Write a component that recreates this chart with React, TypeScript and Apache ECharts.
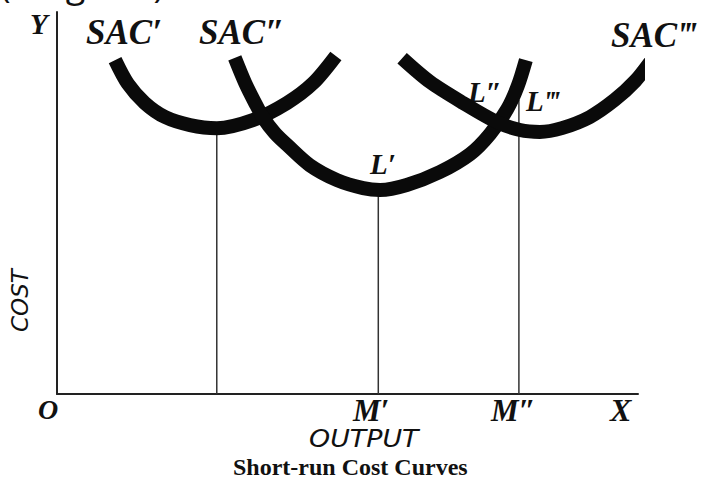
import React, { useEffect, useRef } from "react";
import * as echarts from "echarts";

// Output (0..100 along OX) and cost (0..100 along OY)
const sac1X = [10.0, 12.2, 15.1, 18.6, 22.9, 27.5, 33.7, 39.6, 44.1, 48.0];
const sac1Y = [87.4, 81.2, 76.2, 72.5, 70.4, 69.6, 71.7, 76.2, 81.4, 88.5];

const sac2X = [30.6, 32.4, 34.1, 35.5, 37.5, 39.6, 43.5, 48.2, 52.7, 55.6, 60.2, 65.9, 71.1, 74.5, 77.5, 79.3, 80.7];
const sac2Y = [88.0, 81.4, 76.2, 72.3, 68.3, 65.2, 59.9, 56.0, 53.9, 53.4, 54.7, 58.1, 62.8, 68.0, 74.6, 80.6, 87.4];

const sac3X = [59.4, 64.2, 69.9, 75.7, 79.7, 83.1, 86.9, 91.7, 96.0, 99.5, 102.1];
const sac3Y = [87.9, 81.7, 76.2, 71.2, 69.1, 68.6, 69.6, 72.5, 77.0, 81.9, 86.9];

// vertical drop lines: [output, top cost]
const dropLines: [number, number][] = [
  [27.5, 69.6],
  [55.3, 53.4],
  [79.5, 77.0],
];

const zip = (xs: number[], ys: number[]) => xs.map((x, i) => [x, ys[i]]);

const serifBI = {
  fontFamily: "Liberation Serif",
  fontWeight: "bold" as const,
  fontStyle: "italic" as const,
  fill: "#111",
};

export default function App() {
  const ref = useRef<HTMLDivElement>(null);
  useEffect(() => {
    if (!ref.current) return;
    const chart = echarts.init(ref.current, null, { renderer: "svg" });
    const curve = (d: number[][]) => ({
      type: "line",
      data: d,
      smooth: 0.3,
      symbol: "none",
      clip: false,
      lineStyle: { color: "#0a0a0a", width: 14, cap: "butt" },
      z: 3,
    });
    chart.setOption({
      animation: false,
      backgroundColor: "#ffffff",
      grid: { left: 57, top: 12, width: 581, height: 382 },
      xAxis: {
        type: "value",
        min: 0,
        max: 100,
        axisLine: { show: true, lineStyle: { color: "#222", width: 2 } },
        axisTick: { show: false },
        axisLabel: { show: false },
        splitLine: { show: false },
      },
      yAxis: {
        type: "value",
        min: 0,
        max: 100,
        axisLine: { show: true, lineStyle: { color: "#222", width: 2 } },
        axisTick: { show: false },
        axisLabel: { show: false },
        splitLine: { show: false },
      },
      series: [
        curve(zip(sac1X, sac1Y)),
        curve(zip(sac2X, sac2Y)),
        curve(zip(sac3X, sac3Y)),
        ...dropLines.map(([x, top]) => ({
          type: "line",
          data: [
            [x, 0],
            [x, top],
          ],
          symbol: "none",
          lineStyle: { color: "#333", width: 1.5 },
          z: 2,
        })),
      ],
      graphic: [
        { type: "text", left: 0, top: -35, style: { text: "(Diagram)", font: "36px 'Open Sans'", fill: "#111" } },
        { type: "text", left: 30, top: 9, style: { ...serifBI, text: "Y", fontSize: 29 } },
        { type: "text", left: 86, top: 15, style: { ...serifBI, text: "SAC′", fontSize: 35 } },
        { type: "text", left: 199, top: 15, style: { ...serifBI, text: "SAC″", fontSize: 35 } },
        { type: "text", left: 611, top: 18, style: { ...serifBI, text: "SAC‴", fontSize: 35 } },
        { type: "text", left: 370, top: 149, style: { ...serifBI, text: "L′", fontSize: 29 } },
        { type: "text", left: 468, top: 77, style: { ...serifBI, text: "L″", fontSize: 29 } },
        { type: "text", left: 526, top: 86, style: { ...serifBI, text: "L‴", fontSize: 29 } },
        { type: "text", left: 38, top: 395, style: { ...serifBI, text: "O", fontSize: 28 } },
        { type: "text", left: 353, top: 395, style: { ...serifBI, text: "M′", fontSize: 31 } },
        { type: "text", left: 491, top: 395, style: { ...serifBI, text: "M″", fontSize: 31 } },
        { type: "text", left: 610, top: 394, style: { ...serifBI, text: "X", fontSize: 32 } },
        {
          type: "text",
          x: 309,
          y: 427,
          scaleX: 1.12,
          style: { text: "OUTPUT", font: "italic 24px 'DejaVu Sans'", fill: "#111" },
        },
        {
          type: "text",
          x: 8,
          y: 332,
          rotation: Math.PI / 2,
          style: { text: "COST", font: "italic 23px 'DejaVu Sans'", fill: "#111" },
        },
        {
          type: "text",
          left: 233,
          top: 455,
          style: {
            text: "Short-run Cost Curves",
            font: "bold 24px 'Liberation Serif'",
            fill: "#111",
          },
        },
      ],
    });
    return () => chart.dispose();
  }, []);
  return <div ref={ref} style={{ width: 705, height: 488, position: "absolute", left: 0, top: 0 }} />;
}
